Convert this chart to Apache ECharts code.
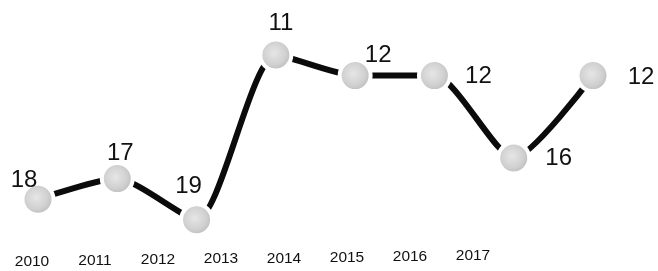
<!DOCTYPE html>
<html><head><meta charset="utf-8">
<script src="https://cdn.jsdelivr.net/npm/echarts@6/dist/echarts.min.js"></script>
<style>html,body{margin:0;padding:0;background:#fff}#c{width:658px;height:271px}</style>
</head><body><div id="c"></div>
<script>
const years = ['2010','2011','2012','2013','2014','2015','2016','2017'];
const ranks = [18, 17, 19, 11, 12, 12, 16, 12];
// label offsets (style only)
const labelOffsets = [[-14,-19],[3,-25],[-8,-33],[5,-32],[23,-20],[44,1],[45,0],[48,2]];
const yearLift = [6,5,4,3,3,2,1,0];

const chart = echarts.init(document.getElementById('c'), null, {renderer:'canvas'});
const markerFill = {type:'radial', x:0.45, y:0.45, r:0.6, colorStops:[
  {offset:0, color:'#e6e6e6'},{offset:0.55, color:'#d0d0d0'},{offset:1, color:'#b0b0b0'}]};

const rich = {};
yearLift.forEach((d,i)=>{ rich['y'+i] = {fontSize:15.5, color:'#111', fontFamily:'Liberation Sans, Arial, sans-serif', padding:[d,0,0,0]}; });

chart.setOption({
  animation:false,
  grid:[
    {left:38, right:65, top:13.8, bottom:30.6},
    {left:32, right:185, top:0, bottom:23}
  ],
  xAxis:[
    {type:'category', gridIndex:0, data:years, boundaryGap:false, show:false},
    {type:'category', gridIndex:1, boundaryGap:false, data:years,
     axisLine:{show:false}, axisTick:{show:false},
     axisLabel:{margin:0, verticalAlign:'top', interval:0, hideOverlap:false,
       fontSize:15.5, color:'#111', fontFamily:'Liberation Sans, Arial, sans-serif',
       rich:rich, formatter:(v,i)=>'{y'+i+'|'+v+'}'}}
  ],
  yAxis:[
    {type:'value', gridIndex:0, inverse:true, min:9, max:20, show:false},
    {type:'value', gridIndex:1, show:false}
  ],
  series:[{
    type:'line', xAxisIndex:0, yAxisIndex:0,
    smooth:0.22,
    data: ranks.map((v,i)=>({value:v, label:{offset:labelOffsets[i]}})),
    lineStyle:{color:'#0b0b0b', width:6},
    symbol:'circle', symbolSize:31,
    itemStyle:{color:markerFill, borderColor:'#ffffff', borderWidth:4},
    label:{show:true, position:'inside', color:'#111', fontSize:24,
      fontFamily:'Liberation Sans, Arial, sans-serif'},
    z:3
  }]
});
</script></body></html>
